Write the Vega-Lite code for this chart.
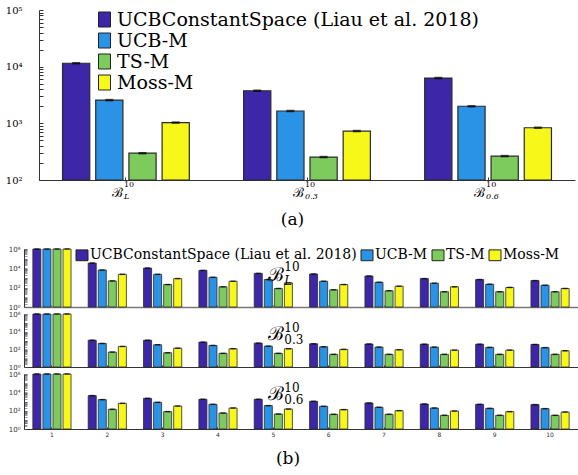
{
  "$schema": "https://vega.github.io/schema/vega-lite/v6.json",
  "background": "white",
  "padding": {"left": 5, "top": 5, "right": 0, "bottom": 0},
  "config": {"view": {"stroke": null}, "font": "DejaVu Serif"},
  "datasets": {
    "a": [
      {"g": "L", "alg": "UCBConstantSpace (Liau et al. 2018)", "v": 11500},
      {"g": "L", "alg": "UCB-M", "v": 2570},
      {"g": "L", "alg": "TS-M", "v": 297},
      {"g": "L", "alg": "Moss-M", "v": 1030},
      {"g": "0.3", "alg": "UCBConstantSpace (Liau et al. 2018)", "v": 3760},
      {"g": "0.3", "alg": "UCB-M", "v": 1650},
      {"g": "0.3", "alg": "TS-M", "v": 254},
      {"g": "0.3", "alg": "Moss-M", "v": 731},
      {"g": "0.6", "alg": "UCBConstantSpace (Liau et al. 2018)", "v": 6300},
      {"g": "0.6", "alg": "UCB-M", "v": 2000},
      {"g": "0.6", "alg": "TS-M", "v": 264},
      {"g": "0.6", "alg": "Moss-M", "v": 835}
    ],
    "alab": [
      {"g": "L", "b": "ℬ", "sup": "10", "sub": "L"},
      {"g": "0.3", "b": "ℬ", "sup": "10", "sub": "0.3"},
      {"g": "0.6", "b": "ℬ", "sup": "10", "sub": "0.6"}
    ],
    "blab": [
      {"p": "L", "b": "ℬ", "sup": "10", "sub": "L"},
      {"p": "0.3", "b": "ℬ", "sup": "10", "sub": "0.3"},
      {"p": "0.6", "b": "ℬ", "sup": "10", "sub": "0.6"}
    ],
    "b": [
      {"p": "L", "g": 1, "alg": "UCBConstantSpace (Liau et al. 2018)", "v": 1000000},
      {"p": "L", "g": 1, "alg": "UCB-M", "v": 1000000},
      {"p": "L", "g": 1, "alg": "TS-M", "v": 1000000},
      {"p": "L", "g": 1, "alg": "Moss-M", "v": 1000000},
      {"p": "L", "g": 2, "alg": "UCBConstantSpace (Liau et al. 2018)", "v": 35000},
      {"p": "L", "g": 2, "alg": "UCB-M", "v": 6700},
      {"p": "L", "g": 2, "alg": "TS-M", "v": 500},
      {"p": "L", "g": 2, "alg": "Moss-M", "v": 2400},
      {"p": "L", "g": 3, "alg": "UCBConstantSpace (Liau et al. 2018)", "v": 10700},
      {"p": "L", "g": 3, "alg": "UCB-M", "v": 2400},
      {"p": "L", "g": 3, "alg": "TS-M", "v": 210},
      {"p": "L", "g": 3, "alg": "Moss-M", "v": 870},
      {"p": "L", "g": 4, "alg": "UCBConstantSpace (Liau et al. 2018)", "v": 6100},
      {"p": "L", "g": 4, "alg": "UCB-M", "v": 1180},
      {"p": "L", "g": 4, "alg": "TS-M", "v": 123},
      {"p": "L", "g": 4, "alg": "Moss-M", "v": 460},
      {"p": "L", "g": 5, "alg": "UCBConstantSpace (Liau et al. 2018)", "v": 3000},
      {"p": "L", "g": 5, "alg": "UCB-M", "v": 690},
      {"p": "L", "g": 5, "alg": "TS-M", "v": 82},
      {"p": "L", "g": 5, "alg": "Moss-M", "v": 314},
      {"p": "L", "g": 6, "alg": "UCBConstantSpace (Liau et al. 2018)", "v": 2600},
      {"p": "L", "g": 6, "alg": "UCB-M", "v": 460},
      {"p": "L", "g": 6, "alg": "TS-M", "v": 60},
      {"p": "L", "g": 6, "alg": "Moss-M", "v": 210},
      {"p": "L", "g": 7, "alg": "UCBConstantSpace (Liau et al. 2018)", "v": 1600},
      {"p": "L", "g": 7, "alg": "UCB-M", "v": 360},
      {"p": "L", "g": 7, "alg": "TS-M", "v": 48},
      {"p": "L", "g": 7, "alg": "Moss-M", "v": 141},
      {"p": "L", "g": 8, "alg": "UCBConstantSpace (Liau et al. 2018)", "v": 870},
      {"p": "L", "g": 8, "alg": "UCB-M", "v": 290},
      {"p": "L", "g": 8, "alg": "TS-M", "v": 38},
      {"p": "L", "g": 8, "alg": "Moss-M", "v": 123},
      {"p": "L", "g": 9, "alg": "UCBConstantSpace (Liau et al. 2018)", "v": 690},
      {"p": "L", "g": 9, "alg": "UCB-M", "v": 225},
      {"p": "L", "g": 9, "alg": "TS-M", "v": 38},
      {"p": "L", "g": 9, "alg": "Moss-M", "v": 105},
      {"p": "L", "g": 10, "alg": "UCBConstantSpace (Liau et al. 2018)", "v": 540},
      {"p": "L", "g": 10, "alg": "UCB-M", "v": 178},
      {"p": "L", "g": 10, "alg": "TS-M", "v": 38},
      {"p": "L", "g": 10, "alg": "Moss-M", "v": 82},
      {"p": "0.3", "g": 1, "alg": "UCBConstantSpace (Liau et al. 2018)", "v": 1000000},
      {"p": "0.3", "g": 1, "alg": "UCB-M", "v": 1000000},
      {"p": "0.3", "g": 1, "alg": "TS-M", "v": 1000000},
      {"p": "0.3", "g": 1, "alg": "Moss-M", "v": 1000000},
      {"p": "0.3", "g": 2, "alg": "UCBConstantSpace (Liau et al. 2018)", "v": 1070},
      {"p": "0.3", "g": 2, "alg": "UCB-M", "v": 460},
      {"p": "0.3", "g": 2, "alg": "TS-M", "v": 49},
      {"p": "0.3", "g": 2, "alg": "Moss-M", "v": 212},
      {"p": "0.3", "g": 3, "alg": "UCBConstantSpace (Liau et al. 2018)", "v": 1070},
      {"p": "0.3", "g": 3, "alg": "UCB-M", "v": 330},
      {"p": "0.3", "g": 3, "alg": "TS-M", "v": 41},
      {"p": "0.3", "g": 3, "alg": "Moss-M", "v": 135},
      {"p": "0.3", "g": 4, "alg": "UCBConstantSpace (Liau et al. 2018)", "v": 650},
      {"p": "0.3", "g": 4, "alg": "UCB-M", "v": 275},
      {"p": "0.3", "g": 4, "alg": "TS-M", "v": 35},
      {"p": "0.3", "g": 4, "alg": "Moss-M", "v": 117},
      {"p": "0.3", "g": 5, "alg": "UCBConstantSpace (Liau et al. 2018)", "v": 500},
      {"p": "0.3", "g": 5, "alg": "UCB-M", "v": 230},
      {"p": "0.3", "g": 5, "alg": "TS-M", "v": 35},
      {"p": "0.3", "g": 5, "alg": "Moss-M", "v": 117},
      {"p": "0.3", "g": 6, "alg": "UCBConstantSpace (Liau et al. 2018)", "v": 425},
      {"p": "0.3", "g": 6, "alg": "UCB-M", "v": 195},
      {"p": "0.3", "g": 6, "alg": "TS-M", "v": 27},
      {"p": "0.3", "g": 6, "alg": "Moss-M", "v": 98},
      {"p": "0.3", "g": 7, "alg": "UCBConstantSpace (Liau et al. 2018)", "v": 400},
      {"p": "0.3", "g": 7, "alg": "UCB-M", "v": 178},
      {"p": "0.3", "g": 7, "alg": "TS-M", "v": 27},
      {"p": "0.3", "g": 7, "alg": "Moss-M", "v": 90},
      {"p": "0.3", "g": 8, "alg": "UCBConstantSpace (Liau et al. 2018)", "v": 380},
      {"p": "0.3", "g": 8, "alg": "UCB-M", "v": 178},
      {"p": "0.3", "g": 8, "alg": "TS-M", "v": 27},
      {"p": "0.3", "g": 8, "alg": "Moss-M", "v": 81},
      {"p": "0.3", "g": 9, "alg": "UCBConstantSpace (Liau et al. 2018)", "v": 380},
      {"p": "0.3", "g": 9, "alg": "UCB-M", "v": 166},
      {"p": "0.3", "g": 9, "alg": "TS-M", "v": 27},
      {"p": "0.3", "g": 9, "alg": "Moss-M", "v": 81},
      {"p": "0.3", "g": 10, "alg": "UCBConstantSpace (Liau et al. 2018)", "v": 355},
      {"p": "0.3", "g": 10, "alg": "UCB-M", "v": 155},
      {"p": "0.3", "g": 10, "alg": "TS-M", "v": 27},
      {"p": "0.3", "g": 10, "alg": "Moss-M", "v": 69},
      {"p": "0.6", "g": 1, "alg": "UCBConstantSpace (Liau et al. 2018)", "v": 1000000},
      {"p": "0.6", "g": 1, "alg": "UCB-M", "v": 1000000},
      {"p": "0.6", "g": 1, "alg": "TS-M", "v": 1000000},
      {"p": "0.6", "g": 1, "alg": "Moss-M", "v": 1000000},
      {"p": "0.6", "g": 2, "alg": "UCBConstantSpace (Liau et al. 2018)", "v": 4400},
      {"p": "0.6", "g": 2, "alg": "UCB-M", "v": 1600},
      {"p": "0.6", "g": 2, "alg": "TS-M", "v": 141},
      {"p": "0.6", "g": 2, "alg": "Moss-M", "v": 630},
      {"p": "0.6", "g": 3, "alg": "UCBConstantSpace (Liau et al. 2018)", "v": 2200},
      {"p": "0.6", "g": 3, "alg": "UCB-M", "v": 810},
      {"p": "0.6", "g": 3, "alg": "TS-M", "v": 79},
      {"p": "0.6", "g": 3, "alg": "Moss-M", "v": 320},
      {"p": "0.6", "g": 4, "alg": "UCBConstantSpace (Liau et al. 2018)", "v": 1740},
      {"p": "0.6", "g": 4, "alg": "UCB-M", "v": 490},
      {"p": "0.6", "g": 4, "alg": "TS-M", "v": 55},
      {"p": "0.6", "g": 4, "alg": "Moss-M", "v": 195},
      {"p": "0.6", "g": 5, "alg": "UCBConstantSpace (Liau et al. 2018)", "v": 1740},
      {"p": "0.6", "g": 5, "alg": "UCB-M", "v": 355},
      {"p": "0.6", "g": 5, "alg": "TS-M", "v": 43},
      {"p": "0.6", "g": 5, "alg": "Moss-M", "v": 151},
      {"p": "0.6", "g": 6, "alg": "UCBConstantSpace (Liau et al. 2018)", "v": 1050},
      {"p": "0.6", "g": 6, "alg": "UCB-M", "v": 300},
      {"p": "0.6", "g": 6, "alg": "TS-M", "v": 40},
      {"p": "0.6", "g": 6, "alg": "Moss-M", "v": 130},
      {"p": "0.6", "g": 7, "alg": "UCBConstantSpace (Liau et al. 2018)", "v": 690},
      {"p": "0.6", "g": 7, "alg": "UCB-M", "v": 234},
      {"p": "0.6", "g": 7, "alg": "TS-M", "v": 40},
      {"p": "0.6", "g": 7, "alg": "Moss-M", "v": 100},
      {"p": "0.6", "g": 8, "alg": "UCBConstantSpace (Liau et al. 2018)", "v": 535},
      {"p": "0.6", "g": 8, "alg": "UCB-M", "v": 195},
      {"p": "0.6", "g": 8, "alg": "TS-M", "v": 31},
      {"p": "0.6", "g": 8, "alg": "Moss-M", "v": 91},
      {"p": "0.6", "g": 9, "alg": "UCBConstantSpace (Liau et al. 2018)", "v": 490},
      {"p": "0.6", "g": 9, "alg": "UCB-M", "v": 178},
      {"p": "0.6", "g": 9, "alg": "TS-M", "v": 31},
      {"p": "0.6", "g": 9, "alg": "Moss-M", "v": 78},
      {"p": "0.6", "g": 10, "alg": "UCBConstantSpace (Liau et al. 2018)", "v": 460},
      {"p": "0.6", "g": 10, "alg": "UCB-M", "v": 166},
      {"p": "0.6", "g": 10, "alg": "TS-M", "v": 31},
      {"p": "0.6", "g": 10, "alg": "Moss-M", "v": 71}
    ]
  },
  "columns": 1,
  "align": "none",
  "spacing": 0,
  "resolve": {
    "scale": {"color": "independent", "x": "independent", "y": "independent", "xOffset": "independent"},
    "legend": {"color": "independent"}
  },
  "concat": [
    {
      "width": 551,
      "height": 170,
      "title": {"text": "(a)", "subtitle": " ", "subtitleFontSize": 16, "subtitlePadding": 0, "orient": "bottom", "anchor": "middle", "frame": "group", "fontSize": 17, "fontWeight": "normal", "font": "DejaVu Serif", "color": "black", "offset": 11, "dx": -7},
      "layer": [
        {
          "data": {"name": "a"},
          "mark": {"type": "bar", "stroke": "#2a2a2a", "strokeWidth": 1.2},
          "encoding": {
            "x": {"field": "g", "type": "nominal", "title": null,
              "scale": {"domain": ["L", "0.3", "0.6"], "range": [15, 551], "paddingInner": 0.3, "paddingOuter": 0.13},
              "axis": {"labels": false, "tickSize": -3, "tickColor": "#333", "domainColor": "#333"}},
            "xOffset": {"field": "alg", "type": "nominal",
              "scale": {"domain": ["UCBConstantSpace (Liau et al. 2018)", "UCB-M", "TS-M", "Moss-M"], "paddingInner": 0.18}},
            "y": {"field": "v", "type": "quantitative", "title": null, "stack": null,
              "scale": {"type": "log", "domain": [100, 100000]},
              "axis": {"values": [100,200,300,400,500,600,700,800,900,1000,2000,3000,4000,5000,6000,7000,8000,9000,10000,20000,30000,40000,50000,60000,70000,80000,90000,100000],
                "labelExpr": "abs(log(datum.value)/LN10 - round(log(datum.value)/LN10)) < 0.001 ? '10' + ['⁰','¹','²','³','⁴','⁵','⁶'][round(log(datum.value)/LN10)] : ''",
                "labelOverlap": false, "labelFont": "DejaVu Serif", "labelFontSize": 10, "labelColor": "black",
                "offset": -15,
                "tickSize": -4, "tickColor": "#333", "domainColor": "#333", "labelPadding": 21,
                "grid": false}},
            "color": {"field": "alg", "type": "nominal",
              "scale": {"domain": ["UCBConstantSpace (Liau et al. 2018)", "UCB-M", "TS-M", "Moss-M"], "range": ["#3E26A8", "#2B93E6", "#7DCB5C", "#F7F71A"]},
              "legend": {"title": null, "orient": "none", "legendX": 71, "legendY": 0, "labelFont": "DejaVu Serif", "labelFontSize": 19, "labelColor": "black", "labelLimit": 1000,
                "symbolType": "M-0.8,-1h1.6v2h-1.6z", "symbolSize": 225, "symbolStrokeColor": "#222", "symbolStrokeWidth": 1, "rowPadding": 1, "labelOffset": 3}}
          }
        },
        {
          "data": {"name": "a"},
          "mark": {"type": "tick", "color": "black", "thickness": 2.5, "size": 8},
          "encoding": {
            "x": {"field": "g", "type": "nominal"},
            "xOffset": {"field": "alg", "type": "nominal"},
            "y": {"field": "v", "type": "quantitative", "stack": null}
          }
        },
        {
          "data": {"name": "alab"},
          "mark": {"type": "text", "align": "right", "baseline": "middle", "dx": -3, "dy": 12.5, "fontSize": 13, "font": "DejaVu Serif", "color": "black"},
          "encoding": {"x": {"field": "g", "type": "nominal"}, "y": {"datum": 100, "type": "quantitative"}, "text": {"field": "b"}}
        },
        {
          "data": {"name": "alab"},
          "mark": {"type": "text", "align": "left", "baseline": "middle", "dx": -2, "dy": 5, "fontSize": 8, "font": "DejaVu Serif", "color": "black"},
          "encoding": {"x": {"field": "g", "type": "nominal"}, "y": {"datum": 100, "type": "quantitative"}, "text": {"field": "sup"}}
        },
        {
          "data": {"name": "alab"},
          "mark": {"type": "text", "align": "left", "baseline": "middle", "dx": -2, "dy": 16.5, "fontSize": 8, "font": "DejaVu Serif", "fontStyle": "italic", "color": "black"},
          "encoding": {"x": {"field": "g", "type": "nominal"}, "y": {"datum": 100, "type": "quantitative"}, "text": {"field": "sub"}}
        }
      ]
    },
    {
      "width": 554,
      "height": 58,
      "layer": [
        {
          "data": {"name": "b"},
          "transform": [{"filter": "datum.p == 'L'"}],
          "mark": {"type": "bar", "stroke": "#2a2a2a", "strokeWidth": 0.8},
          "encoding": {
            "x": {"field": "g", "type": "ordinal", "title": null,
              "scale": {"paddingInner": 0.31, "paddingOuter": 0.16},
              "axis": {"labels": false, "tickSize": -2, "tickColor": "#777", "domainColor": "#777", "domainWidth": 1.3}},
            "xOffset": {"field": "alg", "type": "nominal",
              "scale": {"domain": ["UCBConstantSpace (Liau et al. 2018)", "UCB-M", "TS-M", "Moss-M"], "paddingInner": 0.2}},
            "y": {"field": "v", "type": "quantitative", "title": null, "stack": null,
              "scale": {"type": "log", "domain": [1, 1000000]},
              "axis": {"values": [1,2,3,4,5,6,7,8,9,10,20,30,40,50,60,70,80,90,100,200,300,400,500,600,700,800,900,1000,2000,3000,4000,5000,6000,7000,8000,9000,10000,20000,30000,40000,50000,60000,70000,80000,90000,100000,200000,300000,400000,500000,600000,700000,800000,900000,1000000],
                "labelExpr": "abs(log(datum.value)/LN10 - round(log(datum.value)/LN10)) < 0.001 && round(log(datum.value)/LN10) % 2 == 0 ? '10' + ['⁰','¹','²','³','⁴','⁵','⁶'][round(log(datum.value)/LN10)] : ''",
                "labelOverlap": false, "labelFont": "DejaVu Sans", "labelFontSize": 7, "labelColor": "#333",
                "tickSize": -3, "tickColor": "#555", "tickWidth": 0.6, "domainColor": "#333", "labelPadding": 7,
                "grid": false}},
            "color": {"field": "alg", "type": "nominal",
              "scale": {"domain": ["UCBConstantSpace (Liau et al. 2018)", "UCB-M", "TS-M", "Moss-M"], "range": ["#3E26A8", "#2B93E6", "#7DCB5C", "#F7F71A"]},
              "legend": {"title": null, "orient": "none", "direction": "horizontal", "legendX": 51, "legendY": -1, "labelFont": "DejaVu Serif", "labelFontSize": 14, "labelColor": "black", "labelLimit": 1000,
                "symbolType": "M-1,-0.9h2v1.8h-2z", "symbolSize": 144, "symbolStrokeColor": "#222", "symbolStrokeWidth": 1, "columnPadding": 2, "labelOffset": 1}}
          }
        },
        {
          "data": {"name": "b"},
          "transform": [{"filter": "datum.p == 'L'"}],
          "mark": {"type": "tick", "color": "black", "thickness": 1.5, "size": 5},
          "encoding": {"x": {"field": "g", "type": "ordinal"}, "xOffset": {"field": "alg", "type": "nominal"}, "y": {"field": "v", "type": "quantitative", "stack": null}}
        },
        {
          "data": {"name": "blab"},
          "transform": [{"filter": "datum.p == 'L'"}],
          "mark": {"type": "text", "align": "left", "baseline": "middle", "dx": -5, "fontSize": 19, "font": "DejaVu Serif", "color": "black"},
          "encoding": {"x": {"datum": 5, "type": "ordinal"}, "y": {"datum": 2000, "type": "quantitative"}, "text": {"field": "b"}}
        },
        {
          "data": {"name": "blab"},
          "transform": [{"filter": "datum.p == 'L'"}],
          "mark": {"type": "text", "align": "left", "baseline": "middle", "dx": 11, "dy": -8, "fontSize": 12, "font": "DejaVu Serif", "color": "black"},
          "encoding": {"x": {"datum": 5, "type": "ordinal"}, "y": {"datum": 2000, "type": "quantitative"}, "text": {"field": "sup"}}
        },
        {
          "data": {"name": "blab"},
          "transform": [{"filter": "datum.p == 'L'"}],
          "mark": {"type": "text", "align": "left", "baseline": "middle", "dx": 11, "dy": 6, "fontSize": 12, "font": "DejaVu Serif", "fontStyle": "italic", "color": "black"},
          "encoding": {"x": {"datum": 5, "type": "ordinal"}, "y": {"datum": 2000, "type": "quantitative"}, "text": {"field": "sub"}}
        }
      ]
    },
    {
      "width": 554,
      "height": 53,
      "layer": [
        {
          "data": {"name": "b"},
          "transform": [{"filter": "datum.p == '0.3'"}],
          "mark": {"type": "bar", "stroke": "#2a2a2a", "strokeWidth": 0.8},
          "encoding": {
            "x": {"field": "g", "type": "ordinal", "title": null,
              "scale": {"paddingInner": 0.31, "paddingOuter": 0.16},
              "axis": {"labels": false, "tickSize": -2, "tickColor": "#333", "domainColor": "#333"}},
            "xOffset": {"field": "alg", "type": "nominal",
              "scale": {"domain": ["UCBConstantSpace (Liau et al. 2018)", "UCB-M", "TS-M", "Moss-M"], "paddingInner": 0.2}},
            "y": {"field": "v", "type": "quantitative", "title": null, "stack": null,
              "scale": {"type": "log", "domain": [1, 1000000]},
              "axis": {"values": [1,2,3,4,5,6,7,8,9,10,20,30,40,50,60,70,80,90,100,200,300,400,500,600,700,800,900,1000,2000,3000,4000,5000,6000,7000,8000,9000,10000,20000,30000,40000,50000,60000,70000,80000,90000,100000,200000,300000,400000,500000,600000,700000,800000,900000,1000000],
                "labelExpr": "abs(log(datum.value)/LN10 - round(log(datum.value)/LN10)) < 0.001 && round(log(datum.value)/LN10) % 2 == 0 ? '10' + ['⁰','¹','²','³','⁴','⁵','⁶'][round(log(datum.value)/LN10)] : ''",
                "labelOverlap": false, "labelFont": "DejaVu Sans", "labelFontSize": 7, "labelColor": "#333",
                "tickSize": -3, "tickColor": "#555", "tickWidth": 0.6, "domainColor": "#333", "labelPadding": 7,
                "grid": false}},
            "color": {"field": "alg", "type": "nominal",
              "scale": {"domain": ["UCBConstantSpace (Liau et al. 2018)", "UCB-M", "TS-M", "Moss-M"], "range": ["#3E26A8", "#2B93E6", "#7DCB5C", "#F7F71A"]},
              "legend": null}
          }
        },
        {
          "data": {"name": "b"},
          "transform": [{"filter": "datum.p == '0.3'"}],
          "mark": {"type": "tick", "color": "black", "thickness": 1.5, "size": 5},
          "encoding": {"x": {"field": "g", "type": "ordinal"}, "xOffset": {"field": "alg", "type": "nominal"}, "y": {"field": "v", "type": "quantitative", "stack": null}}
        },
        {
          "data": {"name": "blab"},
          "transform": [{"filter": "datum.p == '0.3'"}],
          "mark": {"type": "text", "align": "left", "baseline": "middle", "dx": -5, "fontSize": 19, "font": "DejaVu Serif", "color": "black"},
          "encoding": {"x": {"datum": 5, "type": "ordinal"}, "y": {"datum": 6000, "type": "quantitative"}, "text": {"field": "b"}}
        },
        {
          "data": {"name": "blab"},
          "transform": [{"filter": "datum.p == '0.3'"}],
          "mark": {"type": "text", "align": "left", "baseline": "middle", "dx": 11, "dy": -6, "fontSize": 12, "font": "DejaVu Serif", "color": "black"},
          "encoding": {"x": {"datum": 5, "type": "ordinal"}, "y": {"datum": 6000, "type": "quantitative"}, "text": {"field": "sup"}}
        },
        {
          "data": {"name": "blab"},
          "transform": [{"filter": "datum.p == '0.3'"}],
          "mark": {"type": "text", "align": "left", "baseline": "middle", "dx": 11, "dy": 6, "fontSize": 12, "font": "DejaVu Serif", "color": "black"},
          "encoding": {"x": {"datum": 5, "type": "ordinal"}, "y": {"datum": 6000, "type": "quantitative"}, "text": {"field": "sub"}}
        }
      ]
    },
    {
      "width": 554,
      "height": 55,
      "title": {"text": "(b)", "orient": "bottom", "anchor": "middle", "frame": "group", "fontSize": 17, "fontWeight": "normal", "font": "DejaVu Serif", "color": "black", "offset": 14, "dx": -13},
      "layer": [
        {
          "data": {"name": "b"},
          "transform": [{"filter": "datum.p == '0.6'"}],
          "mark": {"type": "bar", "stroke": "#2a2a2a", "strokeWidth": 0.8},
          "encoding": {
            "x": {"field": "g", "type": "ordinal", "title": null,
              "scale": {"paddingInner": 0.31, "paddingOuter": 0.16},
              "axis": {"labelAngle": 0, "labelFont": "DejaVu Sans", "labelFontSize": 6, "labelColor": "#333", "labelPadding": 4, "tickSize": -2, "tickColor": "#333", "domainColor": "#333"}},
            "xOffset": {"field": "alg", "type": "nominal",
              "scale": {"domain": ["UCBConstantSpace (Liau et al. 2018)", "UCB-M", "TS-M", "Moss-M"], "paddingInner": 0.2}},
            "y": {"field": "v", "type": "quantitative", "title": null, "stack": null,
              "scale": {"type": "log", "domain": [1, 1000000]},
              "axis": {"values": [1,2,3,4,5,6,7,8,9,10,20,30,40,50,60,70,80,90,100,200,300,400,500,600,700,800,900,1000,2000,3000,4000,5000,6000,7000,8000,9000,10000,20000,30000,40000,50000,60000,70000,80000,90000,100000,200000,300000,400000,500000,600000,700000,800000,900000,1000000],
                "labelExpr": "abs(log(datum.value)/LN10 - round(log(datum.value)/LN10)) < 0.001 && round(log(datum.value)/LN10) % 2 == 0 ? '10' + ['⁰','¹','²','³','⁴','⁵','⁶'][round(log(datum.value)/LN10)] : ''",
                "labelOverlap": false, "labelFont": "DejaVu Sans", "labelFontSize": 7, "labelColor": "#333",
                "tickSize": -3, "tickColor": "#555", "tickWidth": 0.6, "domainColor": "#333", "labelPadding": 7,
                "grid": false}},
            "color": {"field": "alg", "type": "nominal",
              "scale": {"domain": ["UCBConstantSpace (Liau et al. 2018)", "UCB-M", "TS-M", "Moss-M"], "range": ["#3E26A8", "#2B93E6", "#7DCB5C", "#F7F71A"]},
              "legend": null}
          }
        },
        {
          "data": {"name": "b"},
          "transform": [{"filter": "datum.p == '0.6'"}],
          "mark": {"type": "tick", "color": "black", "thickness": 1.5, "size": 5},
          "encoding": {"x": {"field": "g", "type": "ordinal"}, "xOffset": {"field": "alg", "type": "nominal"}, "y": {"field": "v", "type": "quantitative", "stack": null}}
        },
        {
          "data": {"name": "blab"},
          "transform": [{"filter": "datum.p == '0.6'"}],
          "mark": {"type": "text", "align": "left", "baseline": "middle", "dx": -5, "fontSize": 19, "font": "DejaVu Serif", "color": "black"},
          "encoding": {"x": {"datum": 5, "type": "ordinal"}, "y": {"datum": 6000, "type": "quantitative"}, "text": {"field": "b"}}
        },
        {
          "data": {"name": "blab"},
          "transform": [{"filter": "datum.p == '0.6'"}],
          "mark": {"type": "text", "align": "left", "baseline": "middle", "dx": 11, "dy": -6, "fontSize": 12, "font": "DejaVu Serif", "color": "black"},
          "encoding": {"x": {"datum": 5, "type": "ordinal"}, "y": {"datum": 6000, "type": "quantitative"}, "text": {"field": "sup"}}
        },
        {
          "data": {"name": "blab"},
          "transform": [{"filter": "datum.p == '0.6'"}],
          "mark": {"type": "text", "align": "left", "baseline": "middle", "dx": 11, "dy": 6, "fontSize": 12, "font": "DejaVu Serif", "color": "black"},
          "encoding": {"x": {"datum": 5, "type": "ordinal"}, "y": {"datum": 6000, "type": "quantitative"}, "text": {"field": "sub"}}
        }
      ]
    }
  ]
}
